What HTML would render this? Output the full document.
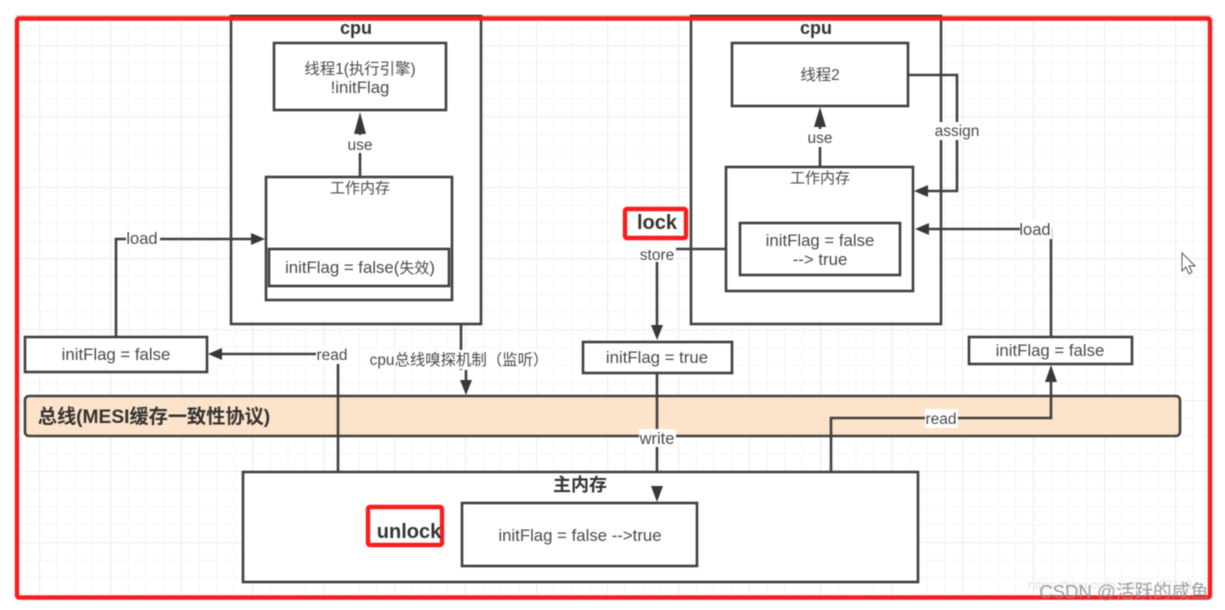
<!DOCTYPE html>
<html><head><meta charset="utf-8"><style>
html,body{margin:0;padding:0;background:#fff;width:1225px;height:610px;overflow:hidden}
svg{display:block;filter:blur(.4px)}
text{font-family:"Liberation Sans","Noto Sans CJK SC",sans-serif;fill:#4a4a4a;font-size:15px;text-anchor:middle}
.b{font-weight:bold;fill:#333}
.f{font-size:16.8px}
.s{fill:#fff;stroke:#404040;stroke-width:2.6}
.l{fill:none;stroke:#404040;stroke-width:2.6}
.a{fill:#383838;stroke:none}
.r{fill:none;stroke:#fa1d1d;stroke-width:4.4}
.w{fill:#fff}
</style></head><body>
<svg width="1225" height="610" viewBox="0 0 1225 610" xmlns="http://www.w3.org/2000/svg">
<defs>
<pattern id="g" width="17.75" height="17.75" patternUnits="userSpaceOnUse" x="3.5" y="9.5">
<path d="M.5 0V17.75M0 .5H17.75" fill="none" stroke="#f7f7f7" stroke-width="1"/>
</pattern>
<pattern id="G" width="71" height="71" patternUnits="userSpaceOnUse" x="39" y="45">
<path d="M.5 0V71M0 .5H71" fill="none" stroke="#eeeeee" stroke-width="1.2"/>
</pattern>
</defs>
<rect width="1225" height="610" fill="#fff"/>
<rect x="16" y="16" width="1194" height="584" fill="url(#g)"/>
<rect x="16" y="16" width="1194" height="584" fill="url(#G)"/>
<path d="M15 15.5H1212" stroke="#cfcfcf" stroke-width="1"/>

<!-- bus -->
<rect x="25" y="396" width="1155" height="40" rx="4" fill="#fde3ca" stroke="#404040" stroke-width="2.6"/>

<!-- cpu containers -->
<rect class="s" x="231" y="16" width="250" height="308"/>
<rect class="s" x="691" y="16" width="250" height="308"/>

<!-- connectors behind nodes -->
<path class="l" d="M116 337V239H255"/>
<path class="l" d="M338 472V354H220"/>
<path class="l" d="M461 324V370M466 370V385"/>
<path class="l" d="M740 249H676M657 262V330"/>
<path class="l" d="M657 373V492"/>
<path class="l" d="M831 472V418H1051V375"/>
<path class="l" d="M1051 337V229H925"/>
<path class="l" d="M908 75H957V191H925"/>
<path class="l" d="M360 177V122"/>
<path class="l" d="M820 167V117"/>

<!-- nodes -->
<rect class="s" x="274" y="43" width="172" height="67"/>
<rect class="s" x="266" y="177" width="186" height="123"/>
<rect class="s" x="269" y="249" width="180" height="37" stroke-width="3"/>
<rect class="s" x="732" y="43" width="176" height="63"/>
<rect class="s" x="726" y="167" width="187" height="124"/>
<rect class="s" x="740" y="223" width="160" height="52"/>
<rect class="s" x="25" y="337" width="182" height="35"/>
<rect class="s" x="583" y="342" width="149" height="31"/>
<rect class="s" x="969" y="337" width="163" height="27"/>
<rect class="s" x="243" y="472" width="675" height="110"/>
<rect class="s" x="462" y="503" width="235" height="63"/>

<!-- arrowheads -->
<path class="a" d="M265 239L251 233V245Z"/>
<path class="a" d="M208 354L222 348V360Z"/>
<path class="a" d="M466 395L460 380H472Z"/>
<path class="a" d="M657 340L651 325H663Z"/>
<path class="a" d="M657 502L651 486H663Z"/>
<path class="a" d="M1051 365L1045 382H1057Z"/>
<path class="a" d="M915 229L929 223V235Z"/>
<path class="a" d="M914 191L928 185V197Z"/>
<path class="a" d="M360 112L354 134H366Z"/>
<path class="a" d="M820 107L814 127H826Z"/>

<!-- label backgrounds -->
<rect class="w" x="126" y="230" width="34" height="18"/>
<rect class="w" x="316" y="346" width="33" height="18"/>
<rect class="w" x="346" y="135" width="28" height="18"/>
<rect class="w" x="807" y="129" width="26" height="18"/>
<rect class="w" x="934" y="122" width="46" height="18"/>
<rect class="w" x="639" y="246" width="37" height="16"/>
<rect class="w" x="373" y="350" width="172" height="19"/>
<rect class="w" x="639" y="429" width="37" height="18"/>
<rect class="w" x="925" y="409" width="33" height="19"/>
<rect class="w" x="1020" y="221" width="32" height="18"/>

<!-- red frames -->
<rect class="r" x="17" y="18.5" width="1193" height="579" rx="2"/>
<rect class="r" x="625" y="209" width="61" height="29" rx="2"/>
<rect class="r" x="368" y="507" width="74" height="38" rx="2"/>

<!-- labels -->
<text class="b" x="356" y="34" style="font-size:18px">cpu</text>
<text class="b" x="816" y="34" style="font-size:18px">cpu</text>
<text x="360" y="74" style="font-size:15.4px">线程1(执行引擎)</text>
<text class="f" x="360" y="93">!initFlag</text>
<text x="820" y="80" style="font-size:15.4px">线程2</text>
<text x="360" y="193">工作内存</text>
<text x="820" y="183">工作内存</text>
<text x="360" y="273"><tspan class="f">initFlag = false(</tspan>失效<tspan class="f">)</tspan></text>
<text class="f" x="820" y="246">initFlag = false</text>
<text class="f" x="820" y="265">--&gt; true</text>
<text x="142" y="244" style="font-size:16.5px">load</text>
<text x="332" y="360" style="font-size:15.5px">read</text>
<text x="360" y="150" style="font-size:15.5px">use</text>
<text x="820" y="143" style="font-size:15.5px">use</text>
<text x="957" y="136" style="font-size:15.5px">assign</text>
<text x="1035" y="235" style="font-size:16.5px">load</text>
<text x="657" y="260" style="font-size:15.5px">store</text>
<text class="f" x="116" y="360">initFlag = false</text>
<text class="f" x="657" y="363">initFlag = true</text>
<text class="f" x="1050" y="356">initFlag = false</text>
<text x="459" y="365" style="font-size:15.4px">cpu总线嗅探机制（监听）</text>
<text x="657" y="444" style="font-size:16.5px">write</text>
<text x="941" y="424" style="font-size:15.5px">read</text>
<text class="b" x="154" y="423" style="font-size:19.2px">总线(MESI缓存一致性协议)</text>
<text class="b" x="580" y="491" style="font-size:18px">主内存</text>
<text class="f" x="580" y="541">initFlag = false --&gt;true</text>
<text class="b" x="657" y="229" style="font-size:20px">lock</text>
<text class="b" x="409" y="538" style="font-size:20px">unlock</text>
<text x="1110" y="589" style="font-size:12px;fill:#e2e2e2">https://blog.csdn.net/qq_37119</text>
<text x="1124" y="598" style="font-size:18.6px;fill:#8a8f94;opacity:.85">CSDN @活跃的咸鱼</text>

<!-- cursor -->
<path d="M1182 253V271L1186 267L1189 274L1192 272L1189 266H1195Z" fill="#fff" stroke="#555" stroke-width="1"/>
</svg>
</body></html>
